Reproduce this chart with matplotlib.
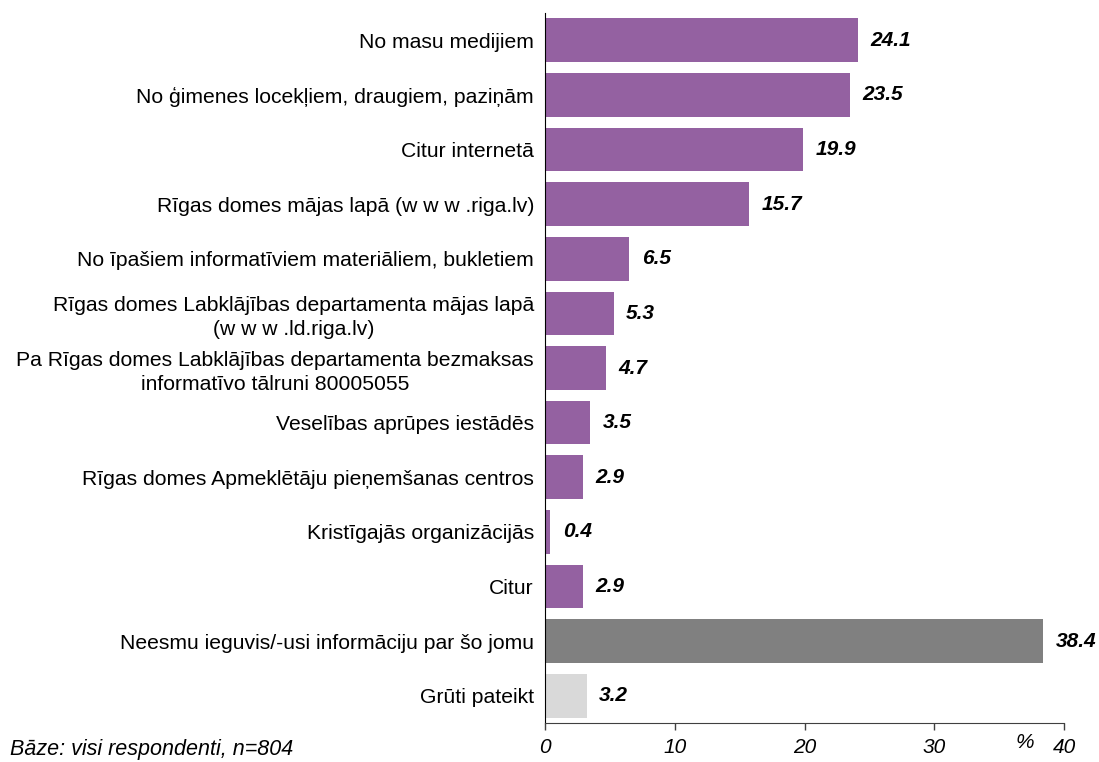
import matplotlib
matplotlib.use("Agg")
import matplotlib.pyplot as plt

categories = [
    "No masu medijiem",
    "No ģimenes locekļiem, draugiem, paziņām",
    "Citur internetā",
    "Rīgas domes mājas lapā (w w w .riga.lv)",
    "No īpašiem informatīviem materiāliem, bukletiem",
    "Rīgas domes Labklājības departamenta mājas lapā\n(w w w .ld.riga.lv)",
    "Pa Rīgas domes Labklājības departamenta bezmaksas\ninformatīvo tālruni 80005055",
    "Veselības aprūpes iestādēs",
    "Rīgas domes Apmeklētāju pieņemšanas centros",
    "Kristīgajās organizācijās",
    "Citur",
    "Neesmu ieguvis/-usi informāciju par šo jomu",
    "Grūti pateikt",
]
values = [24.1, 23.5, 19.9, 15.7, 6.5, 5.3, 4.7, 3.5, 2.9, 0.4, 2.9, 38.4, 3.2]
bar_colors = ["#9461A1"] * 11 + ["#808080", "#D9D9D9"]
x_ticks = [0, 10, 20, 30, 40]

plt.rcParams['font.family'] = ['Liberation Sans', 'DejaVu Sans']

fig = plt.figure(figsize=(10.99, 7.62), dpi=100)
ax = fig.add_axes([545/1099, 1-723/762, (1064-545)/1099, (723-13)/762])

y = list(range(len(categories)))
ax.barh(y, values, height=0.8, color=bar_colors)
ax.set_ylim(len(categories)-0.5, -0.5)
ax.set_xlim(0, 40)

for yi, v in zip(y, values):
    ax.annotate(f"{v:.1f}", xy=(v, yi), xytext=(9, 0), textcoords="offset points",
                ha="left", va="center", fontsize=15, fontweight="bold", fontstyle="italic")

ax.set_yticks(y)
ax.set_yticklabels(categories, fontsize=15.2, multialignment="center", linespacing=1.3)
ax.tick_params(axis="y", length=0, pad=8)
ax.set_xticks(x_ticks)
ax.set_xticklabels([str(t) for t in x_ticks], fontsize=15, fontstyle="italic")
ax.tick_params(axis="x", length=5, width=1, color="#404040", pad=6)

for s in ["top", "right"]:
    ax.spines[s].set_visible(False)
ax.spines["left"].set_color("black")
ax.spines["bottom"].set_color("#404040")

fig.text(10/1099, 1-750/762, "Bāze: visi respondenti, n=804", fontsize=15.5,
         fontstyle="italic", ha="left", va="center")
fig.text(1025/1099, 1-742/762, "%", fontsize=15, fontstyle="italic", ha="center", va="center")

fig.savefig("out.png", dpi=100)
